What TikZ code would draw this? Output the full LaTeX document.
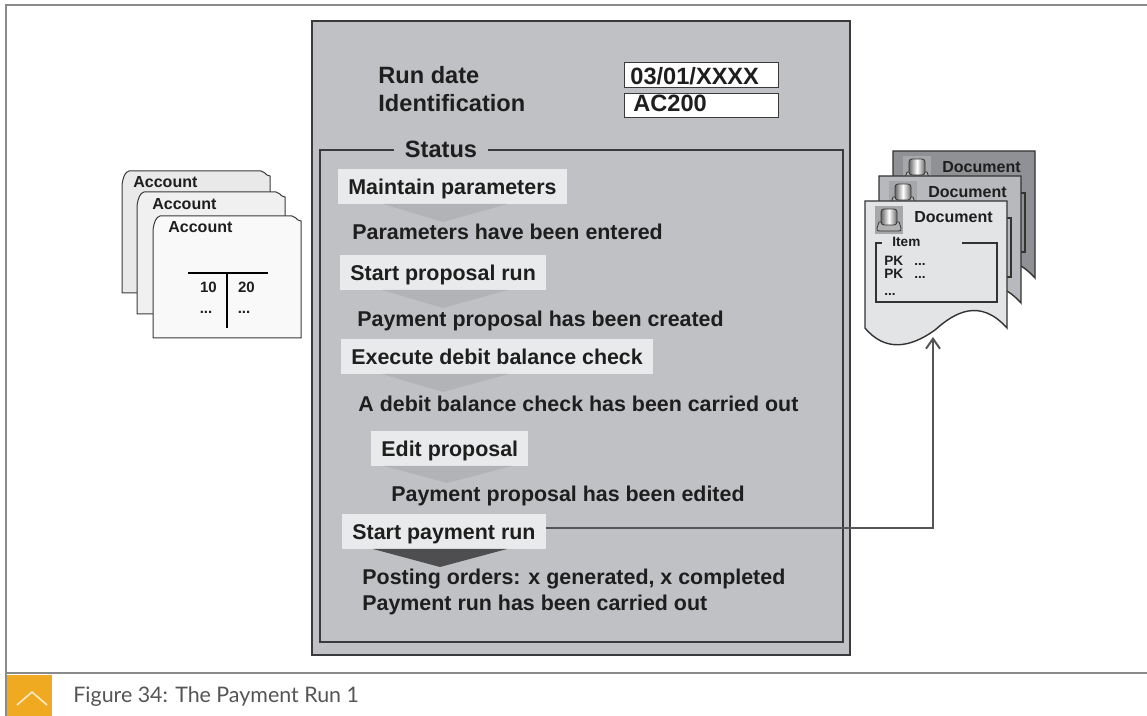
\documentclass[tikz,border=0pt]{standalone}
\usepackage{fontspec}
\setmainfont{Liberation Sans}
\newfontfamily\capfont{Lato}
\usetikzlibrary{arrows.meta,calc}

\definecolor{panel}{HTML}{C0C1C4}
\definecolor{panelline}{HTML}{3A3A3C}
\definecolor{stepfill}{HTML}{E9EAEB}
\definecolor{chev}{HTML}{B2B3B6}
\definecolor{chevdark}{HTML}{4E4E50}
\definecolor{ink}{HTML}{1E1E1E}
\definecolor{framegray}{HTML}{8A8A8A}
\definecolor{capyellow}{HTML}{EFAA22}
\definecolor{capgray}{HTML}{555555}
\definecolor{docA}{HTML}{E3E4E6}
\definecolor{docB}{HTML}{B8B9BC}
\definecolor{docC}{HTML}{909195}
\definecolor{cardA}{HTML}{E9E9E9}
\definecolor{cardB}{HTML}{F0F0F0}
\definecolor{cardC}{HTML}{F9F9F9}
\definecolor{iconbg}{HTML}{A6A7A9}
\definecolor{wire}{HTML}{555557}

\tikzset{
  % account card outline, top-left corner at the pic origin
  pics/acard/.style={code={
    \path[pic actions] (7,0) -- (139,0) .. controls (142,0) and (143,3) .. (145,4)
      -- (148,5) -- (148,122) -- (0,122) -- (0,14) .. controls (1,6) and (3,1) .. (7,0) -- cycle;
  }},
  % document sheet with wavy bottom, icon and item frame
  pics/docsheet/.style={code={
    \path[pic actions] (0,0) -- (142,0) -- (142,127)
      .. controls (115,97) and (90,111) .. (70,129)
      .. controls (45,147) and (20,151) .. (0,127) -- cycle;
    \draw[line width=0.6pt, black!80] (17,42) -- (11,42) -- (11,101) -- (132,101) -- (132,42) -- (97,42);
    \fill[iconbg] (10,5) rectangle (38,33);
    \filldraw[fill=black!30, draw=black!80, line width=0.4pt]
      (14,21) -- (34,21) -- (36,27) .. controls (36,30) .. (33,30) -- (15,30)
      .. controls (12,30) .. (12,27) -- cycle;
    \shadedraw[left color=black!60, right color=black!60, middle color=white,
      draw=black!80, line width=0.4pt, rounded corners=1.5pt] (16,8) rectangle (32,24);
  }},
}

\begin{document}
\begin{tikzpicture}[x=0.5pt,y=-0.5pt,
  steptext/.style={font=\bfseries\fontsize{10.7}{12}\selectfont, text=ink, inner sep=0pt, anchor=base west},
  stepbox/.style={font=\bfseries\fontsize{10.7}{12}\selectfont, text=ink, fill=stepfill,
    inner xsep=5pt, inner ysep=4.9pt, text height=7.7pt, text depth=0pt, anchor=west},
  headtext/.style={font=\bfseries\fontsize{11.8}{13}\selectfont, text=ink, inner sep=0pt, anchor=base west},
  valbox/.style={draw=panelline, line width=0.6pt, fill=white, minimum width=77pt,
    minimum height=12.5pt, anchor=north west, inner sep=0pt},
  cardtext/.style={font=\bfseries\fontsize{8}{9}\selectfont, text=ink, inner sep=0pt, anchor=base west},
  numtext/.style={font=\bfseries\fontsize{7.5}{9}\selectfont, text=ink, inner sep=0pt, anchor=base},
  doctext/.style={font=\bfseries\fontsize{8}{9}\selectfont, text=ink, inner sep=0pt, anchor=base west},
  itemtext/.style={font=\bfseries\fontsize{6.8}{8}\selectfont, text=ink, inner sep=0pt, anchor=base west},
  card/.style={draw=panelline, line width=0.5pt},
  sheet/.style={draw=black!80, line width=0.7pt},
]
\useasboundingbox (0,0) rectangle (1147,716);
\fill[white] (0,0) rectangle (1147,716);

% page frame and caption bar
\draw[framegray, line width=1pt] (1147,5) -- (6,5) -- (6,716);
\draw[framegray, line width=1pt] (6,673) -- (1147,673);
\fill[capyellow] (7,675) rectangle (52,716);
\draw[white!75!capyellow, line width=0.8pt] (17,705) -- (32,692) -- (47,705);
\node[font=\capfont\fontsize{10.7}{13}\selectfont, text=capgray, anchor=base west, inner sep=0pt]
  (cap) at (73,703) {Figure 34: The Payment Run 1};

% account cards
\pic[card, fill=cardA] at (122,171) {acard};
\node[cardtext] (acc1) at (133,188) {Account};
\pic[card, fill=cardB] at (137,192) {acard};
\node[cardtext] (acc2) at (152,210) {Account};
\pic[card, fill=cardC] at (153,216) {acard};
\node[cardtext] (acc3) at (168,233) {Account};
\draw[black, line width=1pt] (188,273) -- (268,273);
\draw[black, line width=1pt] (227,273) -- (227,328);
\node[numtext] (deb) at (208.5,293) {10};
\node[numtext] (cred) at (246.5,293) {20};
\node[numtext] (debm) at (206,314) {...};
\node[numtext] (credm) at (244,314) {...};

% payment run panel
\draw[panelline, line width=0.7pt, fill=panel] (312,21) rectangle (850,655);
\draw[panelline, line width=0.6pt] (320,150) rectangle (843,642);
\node[headtext, anchor=base, fill=panel, inner xsep=5.5pt] (status) at (441,158) {Status};

\node[headtext] (rundate) at (378,84) {Run date};
\node[headtext] (ident) at (378,112) {Identification};
\node[valbox] (datebox) at (624,62) {};
\node[valbox, minimum height=12pt] (idbox) at (624,93) {};
\node[headtext] (dateval) at (630,85) {03/01/XXXX};
\node[headtext] (idval) at (633,112) {AC200};

% steps and resulting states
\node[stepbox] (s1) at (338,186.5) {Maintain parameters};
\fill[chev] (383,204) -- (507,204) -- (443,222) -- cycle;
\node[steptext] (t1) at (352,240) {Parameters have been entered};

\node[stepbox] (s2) at (340,273) {Start proposal run};
\fill[chev] (382,290) -- (508,290) -- (443,308) -- cycle;
\node[steptext] (t2) at (357,327) {Payment proposal has been created};

\node[stepbox] (s3) at (341,356.5) {Execute debit balance check};
\fill[chev] (382,374) -- (508,374) -- (443,392) -- cycle;
\node[steptext] (t3) at (358,412) {A debit balance check has been carried out};

\node[stepbox] (s4) at (371,448.5) {Edit proposal};
\fill[chev] (384,466) -- (512,466) -- (447,483) -- cycle;
\node[steptext] (t4) at (391,502) {Payment proposal has been edited};

\node[stepbox] (s5) at (342,531.5) {Start payment run};
\fill[chevdark] (373,549) -- (507,549) -- (440,567) -- cycle;
\node[steptext] (t5) at (362,585) {Posting orders: x generated, x completed};
\node[steptext] (t6) at (362,611) {Payment run has been carried out};

% stacked documents
\pic[sheet, fill=docC] at (893,151) {docsheet};
\node[doctext] (doc3) at (942,173) {Document};
\pic[sheet, fill=docB] at (879,176) {docsheet};
\node[doctext] (doc2) at (928,198) {Document};
\pic[sheet, fill=docA] at (865,201) {docsheet};
\node[doctext] (doc1) at (914,223) {Document};
\node[itemtext] (item) at (892,247) {Item};
\node[itemtext] (pk1) at (884,266) {PK};
\node[itemtext] (pk1v) at (914,266) {...};
\node[itemtext] (pk2) at (884,279) {PK};
\node[itemtext] (pk2v) at (914,279) {...};
\node[itemtext] (more) at (884,296) {...};

% payment run produces the documents
\coordinate (docin) at (933,337);
\draw[wire, line width=1pt, -{Straight Barb[length=5pt,width=7pt]}]
  ([yshift=1.5pt]s5.east) -| (docin);
\end{tikzpicture}
\end{document}
